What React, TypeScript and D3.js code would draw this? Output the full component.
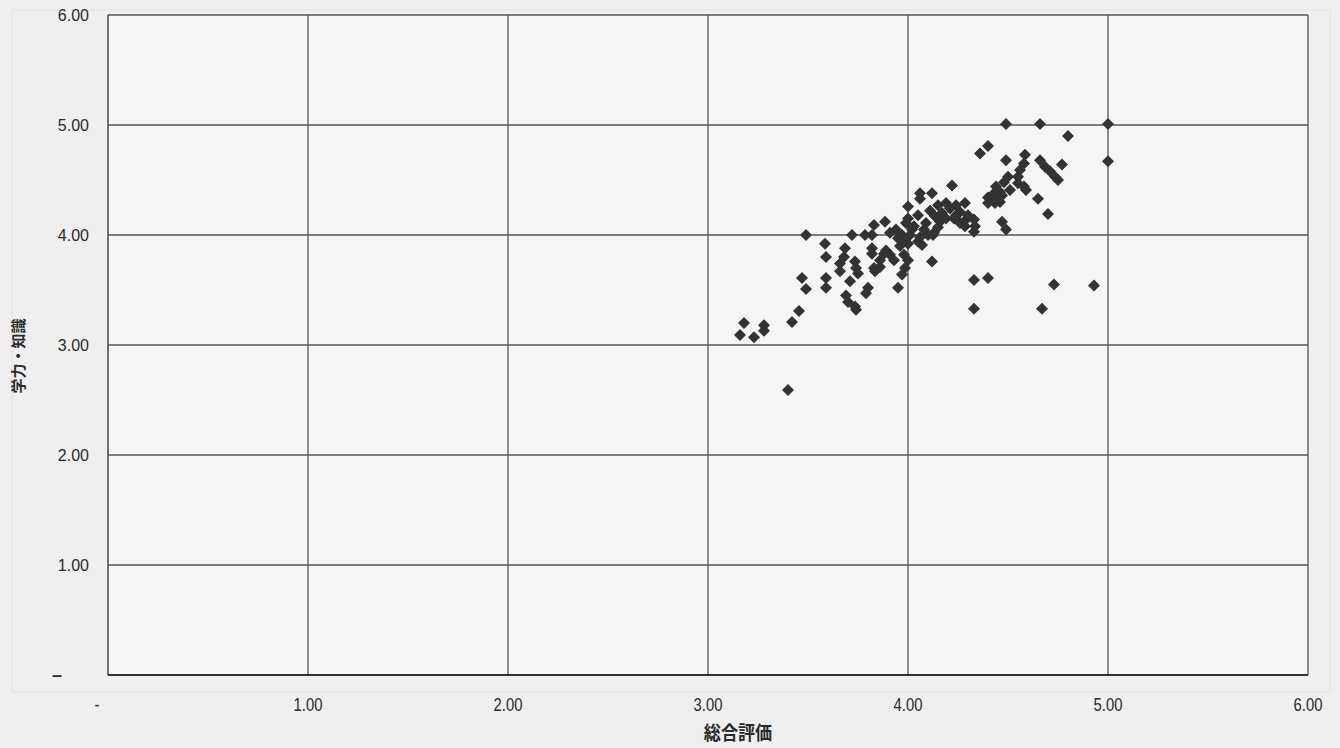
import React from "react";
import * as d3 from "d3";

// 総合評価 (x) and 学力・知識 (y)
const overall: number[] = [
  3.18, 3.16, 3.23, 3.28, 3.28, 3.40, 3.42, 3.455, 3.47, 3.49,
  3.49, 3.585, 3.59, 3.59, 3.59, 3.685, 3.68, 3.66, 3.66, 3.71,
  3.69, 3.70, 3.735, 3.74, 3.72, 3.785, 3.735, 3.74, 3.75, 3.80,
  3.79, 3.83, 3.885, 3.82, 3.82, 3.82, 3.88, 3.91, 3.93, 3.86,
  3.83, 3.86, 3.835, 3.98, 4.00, 3.985, 3.97, 3.95, 3.91, 3.94,
  3.97, 3.98, 4.01, 4.00, 4.05, 4.07, 4.13, 4.06, 4.10, 4.08,
  4.09, 4.05, 4.00, 3.99, 4.00, 4.06, 4.06, 4.12, 4.135, 4.16,
  4.15, 4.12, 4.15, 4.19, 4.24, 4.26, 4.285, 4.23, 4.26, 4.29,
  4.22, 4.17, 4.19, 4.24, 4.33, 4.335, 4.285, 4.33, 4.125, 4.33,
  4.40, 4.33, 4.73, 4.93, 4.67, 4.49, 4.66, 5.00, 4.80, 5.00,
  4.40, 4.36, 4.49, 4.585, 4.58, 4.56, 4.55, 4.66, 4.685, 4.71,
  4.735, 4.75, 4.77, 4.50, 4.48, 4.44, 4.43, 4.46, 4.51, 4.55,
  4.58, 4.59, 4.65, 4.435, 4.46, 4.70, 4.40, 4.40, 4.44, 4.47,
  4.49, 4.47, 4.02, 3.95, 4.03, 3.89, 4.11, 4.21, 4.30, 3.96,
];
const knowledge: number[] = [
  3.20, 3.09, 3.07, 3.18, 3.13, 2.59, 3.21, 3.31, 3.61, 3.51,
  4.00, 3.92, 3.80, 3.61, 3.52, 3.88, 3.80, 3.74, 3.67, 3.58,
  3.45, 3.39, 3.35, 3.32, 4.00, 4.00, 3.76, 3.70, 3.65, 3.52,
  3.47, 4.09, 4.12, 3.88, 3.83, 4.00, 3.83, 3.82, 3.77, 3.77,
  3.70, 3.71, 3.67, 3.82, 3.77, 3.70, 3.64, 3.52, 4.02, 4.05,
  4.00, 3.95, 4.00, 3.92, 3.94, 3.91, 4.02, 3.98, 4.00, 4.05,
  4.11, 4.18, 4.15, 4.11, 4.26, 4.38, 4.33, 4.38, 4.17, 4.12,
  4.07, 3.76, 4.27, 4.29, 4.27, 4.21, 4.29, 4.15, 4.11, 4.14,
  4.45, 4.20, 4.15, 4.18, 4.14, 4.08, 4.08, 4.03, 4.00, 3.59,
  3.61, 3.33, 3.55, 3.54, 3.33, 5.01, 5.01, 5.01, 4.90, 4.67,
  4.81, 4.74, 4.68, 4.73, 4.65, 4.59, 4.53, 4.68, 4.62, 4.58,
  4.53, 4.50, 4.64, 4.53, 4.48, 4.44, 4.38, 4.39, 4.41, 4.47,
  4.44, 4.41, 4.33, 4.29, 4.30, 4.19, 4.34, 4.29, 4.32, 4.36,
  4.05, 4.12, 4.05, 3.97, 4.08, 3.86, 4.22, 4.24, 4.18, 3.90,
];

const xTicks: number[] = [0, 1, 2, 3, 4, 5, 6];
const yTicks: number[] = [0, 1, 2, 3, 4, 5, 6];
const xTitle = "総合評価";
const yTitle = "学力・知識";

const W = 1340;
const H = 748;
const plot = { left: 108, right: 1308, top: 15, bottom: 675 };

const fmt = (v: number) => (v === 0 ? "-" : d3.format(".2f")(v));

export default function App() {
  const x = d3.scaleLinear().domain([0, 6]).range([plot.left, plot.right]);
  const y = d3.scaleLinear().domain([0, 6]).range([plot.bottom, plot.top]);
  const r = 6;
  const diamond = `M0,${-r}L${r},0L0,${r}L${-r},0Z`;
  const pts = overall.map((v, i) => ({ x: v, y: knowledge[i] }));
  const font = "'Liberation Sans', Arial, sans-serif";
  const cjk = "'Noto Sans CJK JP', sans-serif";

  return (
    <svg
      width={W}
      height={H}
      style={{ position: "fixed", left: 0, top: 0, background: "#efefef" }}
    >
      <rect x={0} y={0} width={W} height={H} fill="#efefef" />
      <rect x={12} y={10} width={1318} height={682} fill="none" stroke="#e2e2e2" strokeWidth={1} />
      <rect
        x={plot.left}
        y={plot.top}
        width={plot.right - plot.left}
        height={plot.bottom - plot.top}
        fill="#f5f5f5"
      />
      {/* grid */}
      {yTicks.filter((t) => t > 0).map((t) => (
        <line key={"gy" + t} x1={plot.left} x2={plot.right} y1={y(t)} y2={y(t)} stroke="#555" strokeWidth={1.3} />
      ))}
      {xTicks.filter((t) => t > 0).map((t) => (
        <line key={"gx" + t} x1={x(t)} x2={x(t)} y1={plot.top} y2={plot.bottom} stroke="#555" strokeWidth={1.3} />
      ))}
      <line x1={plot.left} x2={plot.left} y1={plot.top} y2={plot.bottom} stroke="#444" strokeWidth={1.5} />
      <line x1={plot.left} x2={plot.right} y1={plot.bottom} y2={plot.bottom} stroke="#333" strokeWidth={2} />

      {/* y tick labels */}
      {yTicks.map((t) => (
        <text
          key={"yl" + t}
          x={t === 0 ? 57 : 89}
          y={y(t) + 6}
          textAnchor={t === 0 ? "middle" : "end"}
          fontFamily={font}
          fontSize={t === 0 ? 18 : 16}
          fontWeight={t === 0 ? "bold" : "normal"}
          fill="#2a2a2a"
        >
          {t === 0 ? "–" : fmt(t)}
        </text>
      ))}
      {/* x tick labels */}
      {xTicks.map((t) => (
        <text
          key={"xl" + t}
          transform={`translate(${t === 0 ? 97 : x(t)},${711}) scale(0.78,1)`}
          textAnchor="middle"
          fontFamily={font}
          fontSize={19}
          fill="#2a2a2a"
        >
          {fmt(t)}
        </text>
      ))}
      <text
        transform={`translate(738,740) scale(0.9,1)`}
        textAnchor="middle"
        fontFamily={cjk}
        fontSize={19}
        fontWeight="bold"
        fill="#2a2a2a"
      >
        {xTitle}
      </text>
      <text
        transform={`translate(24,${356}) rotate(-90)`}
        textAnchor="middle"
        fontFamily={cjk}
        fontSize={15}
        fontWeight="bold"
        fill="#2a2a2a"
      >
        {yTitle}
      </text>

      {/* points */}
      {pts.map((p, i) => (
        <path key={"p" + i} d={diamond} transform={`translate(${x(p.x)},${y(p.y)})`} fill="#333" />
      ))}
    </svg>
  );
}
